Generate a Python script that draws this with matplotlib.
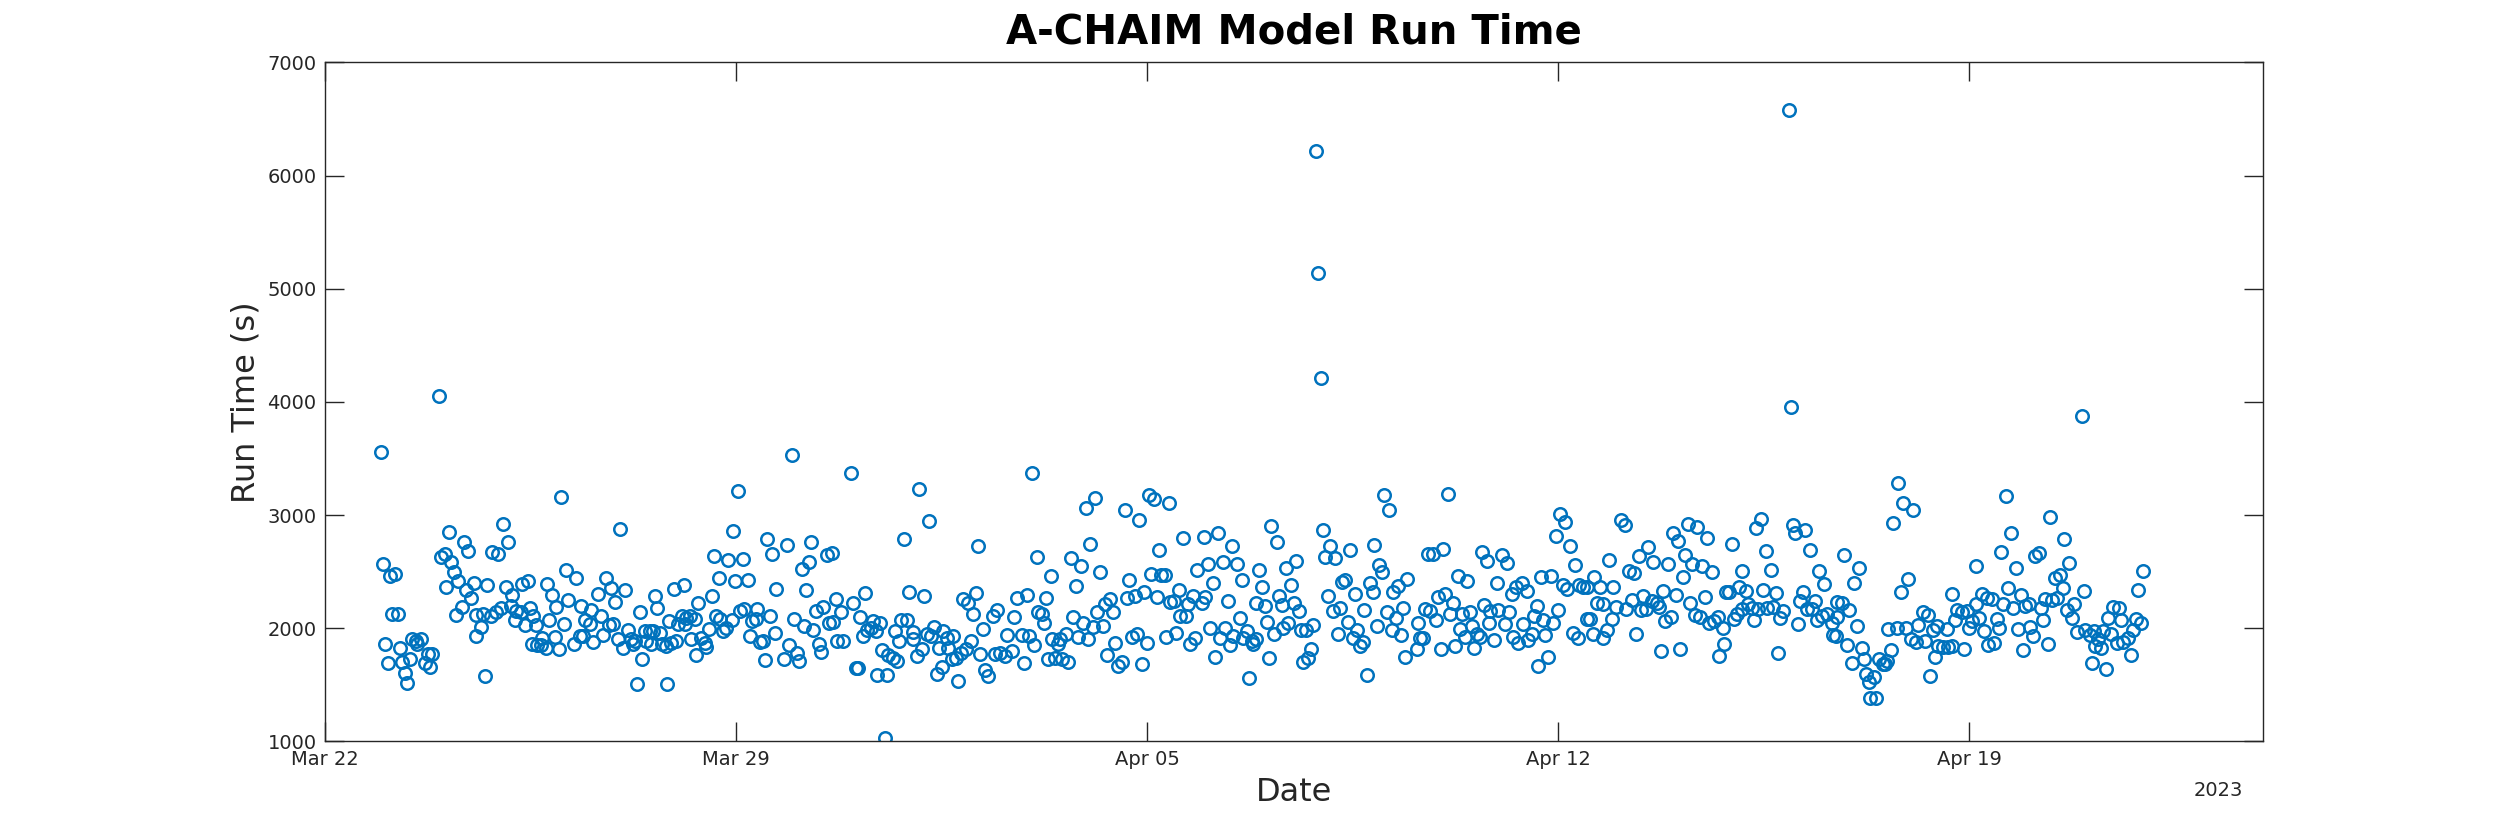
import matplotlib
matplotlib.use("Agg")
import matplotlib.pyplot as plt
import numpy as np
from datetime import datetime, timedelta

# run start, in days after Mar 22 2023 00:00
day = [
    0.949, 1.937, 4.027, 0.983, 1.114, 1.193, 1.148, 1.244, 1.022, 1.073, 1.273, 1.307, 1.358, 1.404,
    1.443, 1.482, 1.557, 1.642, 1.574, 1.698, 1.755, 1.830, 1.784, 2.107, 1.971, 2.039, 2.141, 2.193,
    2.266, 2.068, 2.363, 2.443, 2.397, 2.538, 2.482, 2.329, 2.238, 2.579, 2.692, 2.664, 2.567, 2.767,
    2.733, 2.852, 2.947, 3.027, 3.112, 2.835, 2.920, 3.005, 3.078, 3.193, 3.175, 3.261, 3.339, 3.232,
    3.356, 3.458, 3.414, 3.487, 3.543, 3.601, 3.533, 3.611, 3.687, 3.760, 3.697, 3.782, 3.862, 3.942,
    3.816, 3.913, 3.986, 4.072, 4.101, 4.140,
    4.283, 4.368, 4.538, 4.424, 4.509, 4.709, 4.782, 4.867, 4.651, 4.947, 5.118, 5.032, 4.838, 4.906,
    4.736, 4.566, 4.339, 4.395, 4.237, 4.992, 5.077, 5.162, 5.220, 5.276, 5.247, 5.361, 5.407, 5.322,
    5.446, 5.532, 5.588, 5.475, 5.561, 5.617, 5.656, 5.702, 5.748, 5.816, 5.826, 5.860, 5.940, 6.111,
    5.901, 5.986, 6.014, 6.072, 6.157, 6.225, 6.298, 6.128, 6.242, 6.315, 6.354, 6.583, 6.412, 6.468,
    6.497, 6.542, 6.622, 6.707, 6.656, 6.724, 6.780, 6.838, 6.934, 6.865, 7.111, 6.945, 7.036, 6.991,
    7.206, 7.065, 7.138, 7.235, 7.359, 7.281, 7.337, 7.405, 7.462, 7.496, 7.525, 7.610, 7.576, 7.661,
    7.690,
    7.946, 8.951, 10.119, 10.285, 9.864, 7.871, 8.286, 8.245, 8.116, 8.542, 8.627, 8.201, 7.985, 8.155,
    8.313, 7.905, 8.031, 8.075, 7.814, 8.371, 8.484, 8.700, 8.785, 8.586, 8.654, 8.416, 8.456, 8.722,
    8.825, 8.995, 9.194, 9.109, 9.041, 9.080, 9.165, 9.233, 9.308, 9.393, 9.336, 9.450, 9.479, 9.403,
    9.574, 9.591, 9.666, 9.744, 9.535, 9.705, 9.779, 9.819, 9.915, 9.949, 10.199, 10.017, 10.007, 10.075,
    10.160, 10.245, 10.330, 10.370, 10.460, 10.416, 10.501, 10.528, 10.586, 10.613, 10.698, 10.671,
    10.744, 10.784, 10.841, 10.915, 10.995, 10.869, 10.954, 11.085, 11.039, 11.153, 11.199, 11.119,
    11.238, 11.295,
    12.034, 12.954, 13.118, 13.618, 13.862, 14.037, 14.117, 14.373, 14.617, 13.027, 14.208, 12.119,
    12.699, 12.869, 12.363, 13.198, 12.789, 13.697, 14.072, 14.231, 14.305, 14.845, 11.779, 11.959,
    12.278, 11.438, 11.380, 11.738, 12.147, 12.204, 12.244, 12.743, 12.913, 13.083, 13.243, 13.152,
    13.283, 13.368, 13.414, 13.652, 13.794, 13.947, 14.163, 14.390, 14.458, 14.543, 14.702, 14.777,
    14.560, 14.663, 11.618, 11.864, 11.993, 12.078, 11.409, 11.494, 11.579, 11.693, 11.908, 12.317,
    12.431, 12.545, 12.658, 12.385, 12.487, 12.516, 12.618, 12.828, 12.998, 13.322, 13.453, 13.509,
    13.567, 13.748, 13.833, 13.993, 13.908, 14.322, 14.492, 14.731, 14.816,
    14.969, 15.203, 15.452, 16.111, 16.208, 16.997, 17.116, 17.457, 17.866, 18.036, 18.121, 15.043,
    15.288, 15.537, 15.906, 16.366, 16.537, 17.031, 17.201, 17.951, 17.996, 15.622, 15.128, 15.952,
    16.446, 17.315, 17.371, 17.797, 17.843, 18.194, 18.279, 18.422, 14.986, 14.930, 15.373, 15.865,
    16.008, 16.252, 16.293, 16.503, 16.588, 17.077, 17.162, 17.286, 17.542, 17.700, 18.082, 18.240,
    18.365, 15.583, 15.071, 15.242, 15.327, 15.468, 15.639, 15.697, 15.782, 15.855, 15.809, 15.412,
    16.037, 16.162, 16.320, 16.405, 16.617, 16.707, 16.831, 15.157, 16.082, 15.741, 16.661, 16.746,
    16.792, 17.247, 17.417, 17.571, 17.503, 17.627, 17.673, 17.751, 17.911, 18.167, 18.325, 18.393,
    16.880, 16.910, 16.960,
    19.121, 21.034, 21.119, 20.961, 21.204, 21.869, 21.289, 18.790, 18.865, 19.046, 19.700, 19.796,
    20.041, 20.126, 19.291, 19.455, 19.956, 20.211, 20.284, 20.381, 20.467, 20.710, 20.881, 21.080,
    21.158, 21.363, 21.431, 21.499, 21.618, 21.716, 21.942, 18.961, 19.075, 19.216, 18.734, 18.819,
    18.620, 18.922, 19.160, 19.359, 19.501, 19.744, 19.842, 19.983, 20.165, 19.830, 20.097, 19.330,
    19.530, 19.416, 19.615, 19.671, 20.637, 20.591, 20.750, 20.920, 21.005, 20.409, 20.239, 20.324,
    20.494, 20.552, 20.779, 19.915, 18.649, 18.705, 18.593, 19.002, 19.245, 19.574, 20.654, 20.835,
    21.250, 21.336, 21.591, 21.761, 21.830, 21.489, 21.545, 21.659, 21.772, 21.988, 21.915,
    22.073, 22.141, 24.458, 24.373, 23.210, 23.373, 22.964, 23.039, 23.543, 23.959, 24.998, 25.037,
    25.208, 25.293, 22.538, 22.380, 22.624, 22.879, 23.163, 23.278, 23.448, 23.629, 23.124, 22.215,
    22.295, 24.130, 24.543, 24.623, 25.451, 25.531, 22.256, 22.453, 22.596, 22.681, 22.721, 22.794,
    23.010, 23.504, 23.862, 23.918, 24.089, 24.203, 24.497, 24.714, 25.169, 25.123, 25.378, 22.158,
    22.409, 22.499, 22.823, 22.920, 23.249, 23.334, 23.419, 23.578, 23.663, 23.721, 23.806, 23.998,
    24.044, 24.140, 24.242, 24.300, 24.339, 24.412, 24.555, 24.658, 24.782, 24.838, 25.084, 25.237,
    25.322, 25.417, 25.492, 25.578, 22.329, 22.750, 23.078, 23.748, 23.833, 24.753, 24.964, 24.940,
    26.797, 26.882, 27.042, 26.712, 28.632, 28.712, 28.547, 28.797, 28.121, 29.126, 29.199, 25.872,
    26.133, 26.043, 26.968, 26.838, 27.717, 25.748, 25.833, 25.963, 25.760, 25.663, 25.690, 25.738,
    26.089, 25.918, 26.003, 26.174, 26.218, 26.247, 26.303, 26.383, 26.315, 26.417, 26.474, 26.531,
    26.571, 26.600, 26.673, 26.627, 26.770, 26.928, 27.128, 27.008, 27.099, 27.252, 27.213, 27.298,
    27.394, 27.462, 27.622, 27.422, 27.337, 27.479, 27.564, 27.649, 27.707, 27.763, 27.792, 27.877,
    27.963, 28.048, 28.116, 28.218, 28.303, 28.388, 28.172, 28.007, 28.257, 28.474, 28.518, 28.331,
    28.428, 27.917, 28.586, 28.671, 28.756, 28.882, 28.956, 29.024, 28.842, 29.041, 29.087, 28.927,
    29.922, 29.382, 29.625, 29.710, 30.971, 30.876, 29.467, 29.552, 29.598, 29.966, 29.296, 29.411,
    29.496, 29.228, 29.267, 29.666, 29.796, 29.761, 29.342, 29.837, 29.978, 30.063, 30.136, 30.204,
    30.289, 30.421, 30.148, 30.245, 30.092, 30.335, 30.450, 30.557, 30.375, 30.591, 30.518, 30.630,
    30.715, 30.801, 30.846, 30.932, 30.757,
]

# run time in seconds, same order as day
run_time = [
    3561, 4049, 3162, 2570, 2458, 2476, 2124, 2124, 1857, 1695, 1828, 1704, 1603, 1514,
    1724, 1902, 1887, 1902, 1857, 1695, 1769, 1775, 1656, 2851, 2632, 2656, 2582, 2494,
    2420, 2360, 2766, 2683, 2337, 2396, 2266, 2189, 2115, 2115, 2124, 2011, 1931, 2381,
    1582, 2677, 2656, 2922, 2760, 2109, 2139, 2183, 2360, 2295, 2198, 2153, 2139, 2070,
    2390, 2414, 2026, 2183, 2109, 2026, 1863, 1851, 1851, 1828, 1917, 2390, 2295, 2189,
    2070, 1923, 1819, 2035, 2514, 2248,
    2440, 2198, 2162, 2070, 2035, 2109, 2440, 2354, 2301, 2236, 2337, 2878, 2029, 2035,
    1940, 1881, 1931, 1931, 1857, 1902, 1828, 1982, 1902, 1887, 1857, 2147, 1730, 1503,
    1976, 1976, 1976, 1887, 1857, 2281, 2177, 1961, 1857, 1843, 1503, 2065, 2346, 2381,
    1872, 1887, 2035, 2109, 2094, 2109, 2079, 2035, 1902, 1763, 2227, 2287, 1917, 1872,
    1834, 1991, 2635, 2440, 2109, 2079, 1976, 2000, 2070, 2603, 2612, 2863, 3209, 2414,
    2425, 2153, 2168, 1931, 2168, 2065, 2079, 1881, 1887, 1715, 2792, 2656, 2109, 1955,
    2351,
    3529, 3372, 3233, 2946, 2792, 2739, 2760, 2588, 2523, 2650, 2665, 2337, 2079, 2020,
    1982, 1851, 1783, 1710, 1730, 2153, 2189, 2257, 2147, 2050, 2056, 1857, 1792, 1887,
    1887, 2221, 2310, 2103, 1650, 1650, 1931, 1982, 2006, 1976, 2065, 2050, 1807, 1585,
    1585, 1763, 1739, 1710, 1029, 1976, 1887, 2070, 2070, 2316, 2281, 1970, 1902, 1754,
    1813, 1946, 1931, 2011, 1828, 1597, 1656, 1976, 1917, 1828, 1931, 1724,
    1739, 1532, 1783, 1813, 1887, 2257, 2227, 2307, 2124, 1769, 1991, 2727,
    1627, 1576,
    3372, 3061, 3153, 3041, 2958, 3174, 3138, 3109, 2795, 2745, 2695, 2627,
    2621, 2553, 2464, 2499, 2375, 2428, 2476, 2470, 2470, 2517, 2266, 2292,
    2263, 2159, 2109, 2100, 2139, 2124, 2044, 2100, 2044, 2014, 2020, 2144,
    2212, 2257, 2144, 2266, 2281, 2316, 2277, 2233, 2242, 2337, 2212, 2286,
    2109, 2109, 1937, 1937, 1931, 1852, 1769, 1783, 1754, 1798, 1689, 1724,
    1739, 1724, 1704, 1902, 1863, 1902, 1946, 1925, 1902, 1760, 1866, 1665,
    1704, 1923, 1952, 1866, 1686, 1925, 1961, 1863, 1911,
    2810, 2840, 2730, 2902, 2760, 2869, 2730, 2692, 2736, 3174, 3041, 2567,
    2582, 2567, 2517, 2532, 2591, 2627, 2618, 2562, 2499, 2425, 2399, 2360,
    2384, 2411, 2425, 2396, 2322, 2322, 2375, 2434, 2272, 2227, 2242, 2227,
    2198, 2286, 2207, 2227, 2153, 2281, 2153, 2183, 2301, 2162, 2147, 2088,
    2177, 2088, 2006, 1917, 2000, 1931, 1917, 1976, 1887, 1902, 1857, 1852,
    2059, 1952, 2000, 2050, 1982, 1982, 2026, 1745, 1739, 1556, 1701, 1739,
    1813, 1946, 2056, 1982, 1917, 1843, 1881, 1585, 2020, 1982, 1937, 1745,
    6220, 5140, 4210,
    3183, 3011, 2943, 2819, 2730, 2606, 2562, 2656, 2656, 2700, 2671, 2591,
    2647, 2576, 2464, 2414, 2399, 2301, 2366, 2399, 2331, 2449, 2464, 2384,
    2351, 2381, 2366, 2366, 2449, 2360, 2360, 2272, 2301, 2227, 2168, 2153,
    2044, 2070, 2124, 2130, 2144, 2207, 2153, 2159, 2139, 2044, 2035, 1991,
    2020, 1923, 1946, 1923, 2198, 2109, 2070, 2050, 2159, 2035, 1923, 1872,
    1893, 1946, 1940, 1893, 1911, 1911, 1819, 1813, 1843, 1828, 1665, 1748,
    1961, 1917, 1946, 1917, 1982, 2085, 2079, 2227, 2212, 2189, 2085,
    2958, 2914, 2967, 2884, 2922, 2893, 2840, 2774, 2798, 2745, 2908, 2840,
    2869, 2695, 2715, 2641, 2582, 2567, 2650, 2567, 2547, 2494, 2449, 2508,
    2488, 2508, 2686, 2517, 2508, 2390, 2251, 2281, 2242, 2221, 2189, 2325,
    2292, 2277, 2316, 2316, 2360, 2331, 2337, 2307, 2316, 2242, 2242, 2168,
    2162, 2168, 2065, 2100, 2221, 2118, 2100, 2050, 2065, 2100, 2000, 2079,
    2130, 2168, 2212, 2183, 2070, 2168, 2177, 2189, 2094, 2153, 2041, 2168,
    2168, 2070, 2109, 2130, 1946, 1798, 1813, 1754, 1857, 1783, 3952, 6580,
    3286, 3106, 3041, 2928, 3168, 2840, 2674, 2532, 2547, 2641, 2665, 2647,
    2532, 2396, 2434, 2316, 2301, 2236, 2221, 2162, 2103, 2050, 1940, 1931,
    2017, 1849, 1689, 1828, 1730, 1591, 1523, 1568, 1384, 1384, 1724, 1686,
    1680, 1710, 1804, 1991, 2006, 2000, 2026, 1902, 1881, 1887, 2144, 2115,
    1985, 2020, 1997, 1745, 1576, 1843, 1837, 1837, 1843, 2070, 2159, 2139,
    2153, 2065, 2212, 2301, 2263, 2257, 2094, 2006, 1976, 2079, 2006, 1852,
    1866, 1813, 2212, 2354, 2183, 2295, 2198, 2218, 1991, 2011, 1931, 1807,
    3875, 2981, 2789, 2573, 2508, 2337, 2443, 2470, 2354, 2325, 2257, 2251,
    2266, 2183, 2070, 2162, 2212, 2088, 1857, 1967, 1982, 1937, 1976, 1902,
    1976, 1946, 1843, 1822, 1695, 1642, 2189, 2183, 2094, 2073, 1872, 1881,
    1917, 1982, 2079, 2044, 1763,
]

x_ticks = ["Mar 22", "Mar 29", "Apr 05", "Apr 12", "Apr 19"]

start = datetime(2023, 3, 22)
times = [start + timedelta(days=d) for d in day]

axis_col = "#262626"
plt.rcParams["font.family"] = "DejaVu Sans"

fig = plt.figure(figsize=(25, 8.33), dpi=100)
ax = fig.add_axes([0.13, 0.11, 0.775, 0.815])

ax.plot(times, run_time, linestyle="none", marker="o", markersize=9,
        markerfacecolor="none", markeredgecolor="#0072BD", markeredgewidth=1.8)

ax.set_xlim(start, start + timedelta(days=33))
ax.set_ylim(1000, 7000)
ax.set_yticks(np.arange(1000, 7001, 1000))
ax.set_xticks([start + timedelta(days=7 * i) for i in range(len(x_ticks))])
ax.set_xticklabels(x_ticks)

for s in ax.spines.values():
    s.set_color(axis_col)
    s.set_linewidth(1.0)
ax.tick_params(direction="in", length=14, width=1.0, colors=axis_col,
               labelsize=14, top=True, right=True, pad=6)

ax.set_xlabel("Date", fontsize=23, color=axis_col, labelpad=6)
ax.set_ylabel("Run Time (s)", fontsize=23, color=axis_col)
ax.set_title("A-CHAIM Model Run Time", fontsize=29, fontweight="bold", pad=14)
ax.text(0.99, -0.072, "2023", transform=ax.transAxes, ha="right", va="center",
        fontsize=14, color=axis_col)

fig.savefig("out.png", dpi=100)
